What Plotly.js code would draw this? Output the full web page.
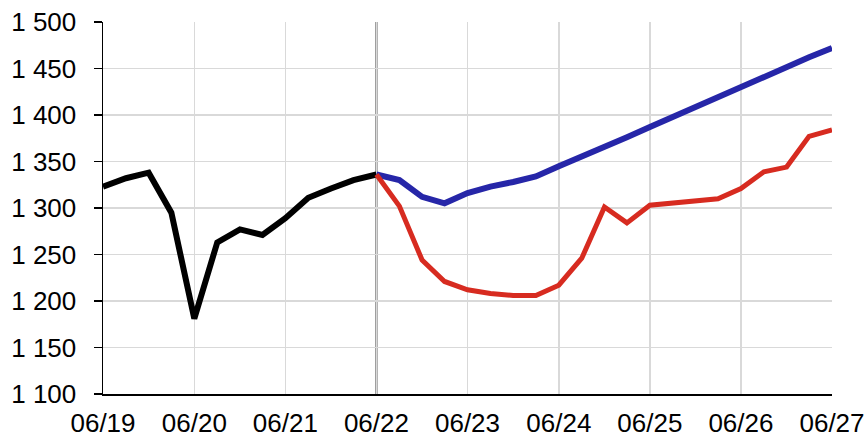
<!DOCTYPE html>
<html>
<head>
<meta charset="utf-8">
<script src="https://cdn.plot.ly/plotly-3.0.1.min.js"></script>
<style>html,body{margin:0;padding:0;background:#fff;}#chart{width:868px;height:438px;}</style>
</head>
<body>
<div id="chart"></div>
<script>
// Quarterly dates
const histDates = ["2019-06-01","2019-09-01","2019-12-01","2020-03-01","2020-06-01","2020-09-01","2020-12-01","2021-03-01","2021-06-01","2021-09-01","2021-12-01","2022-03-01","2022-06-01"];
const histValues = [1323,1332,1338,1295,1181,1263,1277,1271,1289,1311,1321,1330,1336];

const projDates = ["2022-06-01","2022-09-01","2022-12-01","2023-03-01","2023-06-01","2023-09-01","2023-12-01","2024-03-01","2024-06-01","2024-09-01","2024-12-01","2025-03-01","2025-06-01","2025-09-01","2025-12-01","2026-03-01","2026-06-01","2026-09-01","2026-12-01","2027-03-01","2027-06-01"];
const blueValues = [1336,1330,1312,1305,1316,1323,1328,1334,1345,1355,1365,1376,1387,1398,1409,1419,1430,1440,1451,1462,1472];
const redValues  = [1336,1302,1244,1221,1212,1208,1206,1206,1217,1246,1301,1284,1303,1305,1308,1310,1321,1339,1344,1377,1384];

const tickDates = ["2019-06-01","2020-06-01","2021-06-01","2022-06-01","2023-06-01","2024-06-01","2025-06-01","2026-06-01","2027-06-01"];
const tickLabels = ["06/19","06/20","06/21","06/22","06/23","06/24","06/25","06/26","06/27"];
const yTicks = [1100,1150,1200,1250,1300,1350,1400,1450,1500];
const splitDate = "2022-06-01";

const traces = [
  {x: histDates, y: histValues, type: "scatter", mode: "lines", line: {color: "#000000", width: 6}, hoverinfo: "skip"},
  {x: projDates, y: blueValues, type: "scatter", mode: "lines", line: {color: "#2626a8", width: 6}, hoverinfo: "skip"},
  {x: projDates, y: redValues, type: "scatter", mode: "lines", line: {color: "#d72b20", width: 5}, hoverinfo: "skip"}
];

const layout = {
  width: 868, height: 438,
  margin: {l: 103, r: 36, t: 22, b: 44},
  paper_bgcolor: "#ffffff", plot_bgcolor: "#ffffff",
  showlegend: false,
  separators: ". ",
  font: {family: "Liberation Sans, Arial, sans-serif", size: 26, color: "#000"},
  xaxis: {
    type: "date",
    range: [tickDates[0], tickDates[tickDates.length-1]],
    tickvals: tickDates, ticktext: tickLabels,
    showgrid: true, gridcolor: "#d9d9d9", gridwidth: 1.5,
    showline: true, linecolor: "#000", linewidth: 1.5,
    ticks: "", ticklabelstandoff: 5,
    zeroline: false,
    tickfont: {size: 26}
  },
  yaxis: {
    range: [1100, 1500],
    tickvals: yTicks,
    tickformat: ",d",
    showgrid: true, gridcolor: "#d9d9d9", gridwidth: 1.5,
    showline: true, linecolor: "#000", linewidth: 1.5,
    ticks: "outside", ticklen: 8, tickcolor: "#000", tickwidth: 1.5,
    ticklabelstandoff: 12,
    zeroline: false,
    tickfont: {size: 26}
  },
  shapes: [{
    type: "line", xref: "x", yref: "paper",
    x0: splitDate, x1: splitDate, y0: 0, y1: 1,
    line: {color: "#555555", width: 2}, layer: "below"
  }]
};

Plotly.newPlot("chart", traces, layout, {staticPlot: true, displayModeBar: false});
</script>
</body>
</html>
